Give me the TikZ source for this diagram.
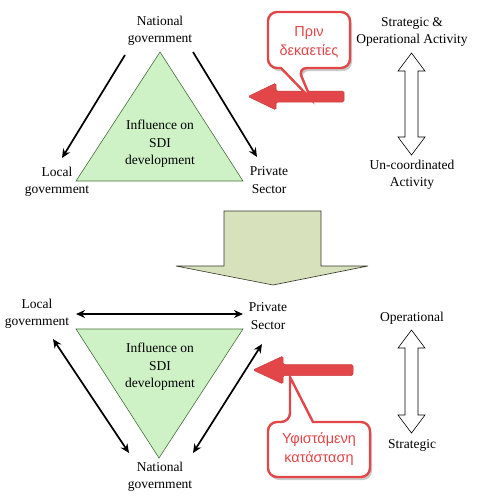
\documentclass[tikz,border=0pt]{standalone}
\usepackage{fontspec}
\setmainfont{Liberation Serif}
\newfontfamily\grfont{Liberation Sans}
\usetikzlibrary{arrows.meta,shadows}
\definecolor{trifill}{RGB}{206,242,198}
\definecolor{triedge}{RGB}{70,110,60}
\definecolor{bigfill}{RGB}{215,226,188}
\definecolor{bigedge}{RGB}{50,55,40}
\definecolor{calred}{RGB}{226,70,72}
\tikzset{
  lbl/.style={align=center,font=\fontsize{13.5}{17.5}\selectfont,inner sep=0pt},
  tri/.style={fill=trifill,draw=triedge,line width=0.6pt},
  blk/.style={line width=1.7pt,-{Stealth[length=9pt,width=8pt]}},
  blkd/.style={line width=1.7pt,{Stealth[length=9pt,width=8pt]}-{Stealth[length=9pt,width=8pt]}},
  hollow/.style={fill=white,draw=black,line width=0.6pt},
  redarrow/.style={fill=calred,draw=calred!90!black,line width=0.5pt,rounded corners=1.5pt},
  callout/.style={fill=white,draw=calred,line width=2.4pt,rounded corners=9pt,
     drop shadow={shadow xshift=2pt,shadow yshift=-3pt,opacity=0.35,fill=black!60}},
  caltext/.style={align=center,text=calred,font=\grfont\fontsize{14.5}{19}\selectfont,inner sep=0pt},
}
\begin{document}
\begin{tikzpicture}[x=1pt,y=-1pt]
\useasboundingbox (0,0) rectangle (487,499);
% ---------- top part ----------
\draw[tri] (160,52) -- (243,181) -- (76,181) -- cycle;
\node[lbl] (infl1) at (160,144) {Influence on\\SDI\\development};
\node[lbl] (nat1) at (160,31) {National\\government};
\node[lbl] (loc1) at (57,182) {Local\\government};
\node[lbl] (priv1) at (269,180) {Private\\Sector};
\coordinate (a1s) at (125,55); \coordinate (a1e) at (62,158);
\coordinate (a2s) at (193,52); \coordinate (a2e) at (257,157);
\draw[blk] (a1s) -- (a1e);
\draw[blk] (a2s) -- (a2e);
\node[lbl] (strat1) at (412,32) {Strategic \&\\Operational Activity};
\node[lbl] (unco) at (412,175) {Un-coordinated\\Activity};
\draw[hollow] (411.5,53) -- (425,71) -- (418,71) -- (418,137) -- (425,137) -- (411.5,155)
   -- (398,137) -- (405,137) -- (405,71) -- (398,71) -- cycle;
% red arrow top
\draw[redarrow] (344,91) -- (276,91) -- (276,83) -- (248,96.5) -- (276,110) -- (276,102) -- (344,102) -- cycle;
% callout top
\draw[callout] (268,12) -- (350,12) -- (350,68) -- (298,68) [sharp corners] -- (311,99) -- (281,68) [rounded corners=9pt] -- (268,68) -- cycle;
\node[caltext] (c1) at (309,42) {Πριν\\δεκαετίες};
% ---------- big arrow ----------
\draw[fill=bigfill,draw=bigedge,line width=0.6pt] (224,211) -- (321,211) -- (321,266) -- (368,266)
  -- (273,285) -- (176,266) -- (224,266) -- cycle;
% ---------- bottom part ----------
\draw[tri] (76,329) -- (243,329) -- (159,458) -- cycle;
\node[lbl] (infl2) at (160,367) {Influence on\\SDI\\development};
\node[lbl] (loc2) at (37,314) {Local\\government};
\node[lbl] (priv2) at (268,316) {Private\\Sector};
\node[lbl] (nat2) at (160,477) {National\\government};
\coordinate (b1s) at (76,314); \coordinate (b1e) at (243,314);
\coordinate (b2s) at (53,339); \coordinate (b2e) at (129,453);
\coordinate (b3s) at (262,344); \coordinate (b3e) at (193,453);
\draw[blkd] (b1s) -- (b1e);
\draw[blkd] (b2s) -- (b2e);
\draw[blkd] (b3s) -- (b3e);
\node[lbl] (oper) at (412,318) {Operational};
\node[lbl] (strat2) at (412,445) {Strategic};
\draw[hollow] (411.5,330) -- (425,348) -- (418,348) -- (418,415) -- (425,415) -- (411.5,433)
   -- (398,415) -- (405,415) -- (405,348) -- (398,348) -- cycle;
% red arrow bottom
\draw[redarrow] (353,364.5) -- (283,364.5) -- (283,356) -- (253,370) -- (283,384) -- (283,375.5) -- (353,375.5) -- cycle;
% callout bottom
\draw[callout] (268,422) -- (290,422) [sharp corners] -- (290,377) -- (313,422) [rounded corners=9pt] -- (370,422) -- (370,477) -- (268,477) -- cycle;
\node[caltext] (c2) at (319,449) {Υφιστάμενη\\κατάσταση};
\end{tikzpicture}
\end{document}
